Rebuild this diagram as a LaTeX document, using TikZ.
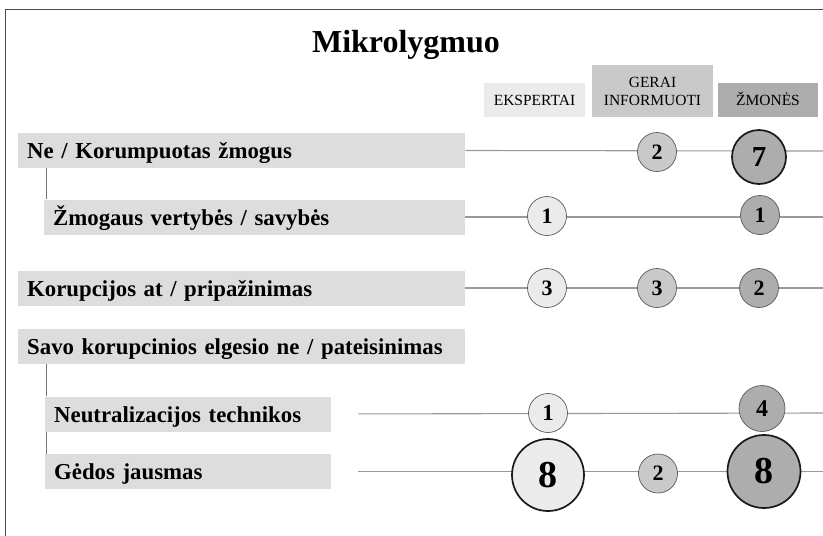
\documentclass[tikz,border=0pt]{standalone}
\usepackage{fontspec}
\setmainfont{Liberation Serif}
\definecolor{boxgray}{HTML}{DDDDDD}
\definecolor{lightg}{HTML}{EBEBEB}
\definecolor{midg}{HTML}{C9C9C9}
\definecolor{darkg}{HTML}{ADADAD}
\definecolor{linegray}{HTML}{999999}
\begin{document}
\begin{tikzpicture}[x=1pt,y=-1pt,
    lbl/.style={fill=boxgray, anchor=west, minimum height=35pt, inner xsep=9pt, inner ysep=0pt,
        text height=16pt, text depth=0pt, text width=#1, font=\fontsize{22.8}{25}\selectfont\bfseries},
    head/.style={fill=#1, inner sep=0pt, align=center, font=\fontsize{15.5}{18}\selectfont},
    row/.style={draw=linegray, line width=1.1pt},
    stem/.style={draw=black!55, line width=1pt},
    num/.style={circle, draw=black!65, line width=0.7pt, fill=#1, minimum size=39pt, inner sep=0pt,
        font=\fontsize{22}{22}\selectfont\bfseries},
    big/.style={draw=black!90, line width=1.7pt}]
    \useasboundingbox (0,0) rectangle (823,536);
    \draw[black!70, line width=1.2pt] (5.5,536) -- (5.5,9.5) -- (823,9.5);
    \node (title) at (406,45) {\fontsize{32}{34}\selectfont\bfseries Mikrolygmuo};
    % stulpeliai
    \node[head=lightg, minimum width=101pt, minimum height=34pt, text height=10.5pt, text depth=0pt] (h1) at (534.5,100) {EKSPERTAI};
    \node[head=midg, minimum width=121pt, minimum height=52pt] (h2) at (652.5,91) {GERAI\\INFORMUOTI};
    \node[head=darkg, minimum width=100pt, minimum height=34pt, text height=10.5pt, text depth=0pt] (h3) at (768,100) {ŽMONĖS};
    % eilutes
    \node[lbl=429pt] (r1) at (18,150.5) {Ne / Korumpuotas žmogus};
    \node[lbl=403pt] (r2) at (44,217) {Žmogaus vertybės / savybės};
    \node[lbl=429pt] (r3) at (18,288) {Korupcijos at / pripažinimas};
    \node[lbl=429pt] (r4) at (18,346.5) {Savo korupcinios elgesio ne / pateisinimas};
    \node[lbl=268pt] (r5) at (45,414) {Neutralizacijos technikos};
    \node[lbl=268pt] (r6) at (45,471.5) {Gėdos jausmas};
    \draw[stem] ([xshift=28pt]r1.south west) -- ([xshift=28pt]r1.south west |- r2.north);
    \draw[stem] ([xshift=28pt]r4.south west) -- ([xshift=28pt]r4.south west |- r5.north);
    \draw[stem] ([xshift=1pt]r5.south west) -- ([xshift=1pt]r5.south west |- r6.north);
    \coordinate (e1) at (823,151);
    \coordinate (e2) at (823,217);
    \coordinate (e3) at (823,288);
    \coordinate (e5) at (823,413);
    \coordinate (e6) at (823,471.5);
    \draw[row] (r1.east) -- (e1);
    \draw[row] (r2.east) -- (e2);
    \draw[row] (r3.east) -- (e3);
    \draw[row, shorten <=27pt] (r5.east) -- (e5);
    \draw[row, shorten <=27pt] (r6.east) -- (e6);
    % apskritimai
    \node[num=midg] (c1b) at (657,152) {2};
    \node[num=darkg, big, minimum size=54pt, font=\fontsize{29}{29}\selectfont\bfseries] (c1c) at (759,157) {7};
    \node[num=lightg] (c2a) at (547,216) {1};
    \node[num=darkg] (c2c) at (760,215) {1};
    \node[num=lightg] (c3a) at (547,288) {3};
    \node[num=midg] (c3b) at (657,288) {3};
    \node[num=darkg] (c3c) at (759,288) {2};
    \node[num=lightg, font=\fontsize{23}{23}\selectfont\bfseries] (c5a) at (548,413) {1};
    \node[num=darkg, minimum size=46pt, font=\fontsize{24}{24}\selectfont\bfseries] (c5c) at (762,408.5) {4};
    \node[num=lightg, big, minimum size=72pt, font=\fontsize{38}{38}\selectfont\bfseries] (c6a) at (548,475) {8};
    \node[num=midg] (c6b) at (658,473.5) {2};
    \node[num=darkg, big, minimum size=73pt, font=\fontsize{38}{38}\selectfont\bfseries] (c6c) at (764,471.5) {8};
\end{tikzpicture}
\end{document}
